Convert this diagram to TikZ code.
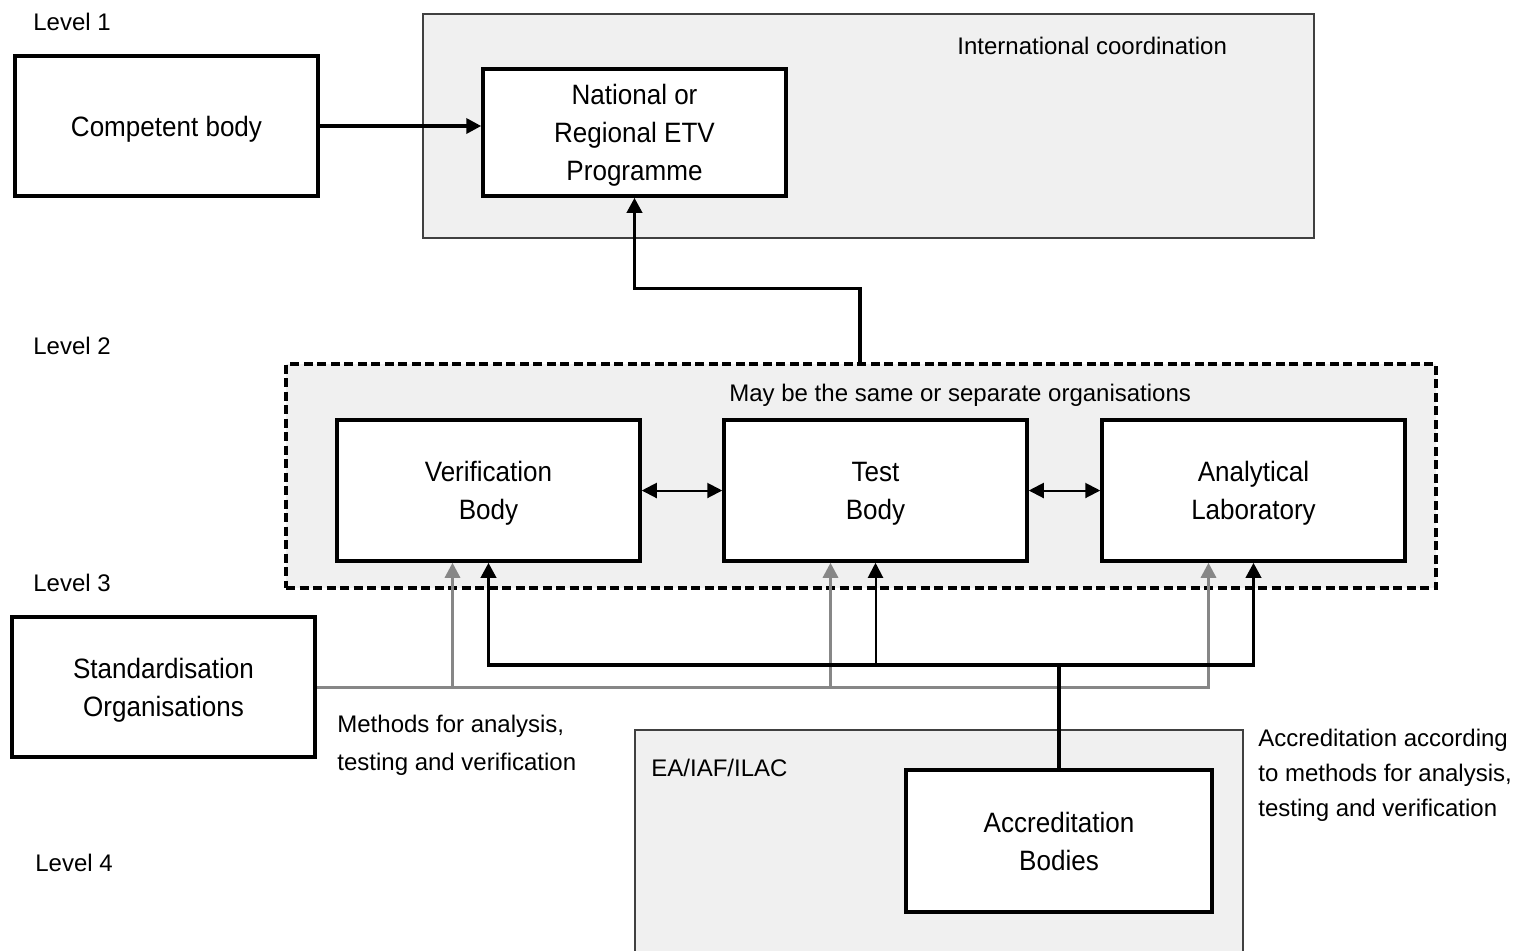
\documentclass[tikz,border=0pt]{standalone}
\usepackage{fontspec}
\setmainfont{Liberation Sans}
\newfontfamily\boxfont[FakeStretch=0.93]{Liberation Sans}
\usetikzlibrary{arrows.meta}
\definecolor{gfill}{HTML}{F0F0F0}
\definecolor{gline}{HTML}{878787}
\definecolor{gborder}{HTML}{404040}
\begin{document}
\begin{tikzpicture}[x=0.5pt,y=-0.5pt,
  box/.style={draw=black, line width=1.75pt, fill=white, align=center,
    font=\boxfont\fontsize{14}{19}\selectfont, inner sep=0pt, text depth=-1pt},
  grp/.style={draw=gborder, line width=0.75pt, fill=gfill},
  dgrp/.style={draw=black, line width=1.6pt, fill=gfill, dash pattern=on 4.5pt off 2.25pt, inner sep=0pt},
  lbl/.style={font=\fontsize{12}{17.5}\selectfont, inner sep=0pt, align=left},
  tip/.style={-{Triangle[length=7.5pt,width=7.5pt]}},
  blk/.style={draw=black, line width=1.75pt},
  blkarr/.style={blk, tip},
  thinarr/.style={draw=black, line width=1pt, tip},
  dblarr/.style={draw=black, line width=1pt, {Triangle[length=7.5pt,width=7.5pt]}-{Triangle[length=7.5pt,width=7.5pt]}},
  grayarr/.style={draw=gline, line width=1.5pt, -{Triangle[length=7.5pt,width=7.5pt]}},
]
\useasboundingbox (0,0) rectangle (1522,950);
\begin{scope}
\clip (0,0) rectangle (1522,950);

% group frames
\node[grp, minimum width=445.5pt, minimum height=112pt] (intl) at (868.5,126) {};
\node[dgrp, minimum width=575pt, minimum height=112pt] (grp2) at (861,476) {};
\node[grp, minimum width=304pt, minimum height=120pt, anchor=north west] (ea) at (634,729) {};

% labels
\node[lbl, anchor=base west] (l1) at (33,30.5) {Level 1};
\node[lbl, anchor=base west] (l2) at (33,354.5) {Level 2};
\node[lbl, anchor=base west] (l3) at (33,591.5) {Level 3};
\node[lbl, anchor=base west] (l4) at (35,871.5) {Level 4};
\node[lbl, anchor=base west] (tintl) at (957,54.5) {International coordination};
\node[lbl, anchor=base west] (tgrp) at (729,401.5) {May be the same or separate organisations};
\node[lbl, anchor=base west] (tea) at (651,776.5) {EA/IAF/ILAC};
\node[lbl, anchor=west, font=\fontsize{12}{19}\selectfont] (tmeth) at (337,745) {Methods for analysis,\\testing and verification};
\node[lbl, anchor=west] (tacc) at (1258,775) {Accreditation according\\to methods for analysis,\\testing and verification};

% boxes
\node[box, minimum width=151.5pt, minimum height=70pt] (comp) at (166.5,126) {Competent body};
\node[box, minimum width=151.5pt, minimum height=63.5pt] (nat) at (634.5,132.5) {National or\\Regional ETV\\Programme};
\node[box, minimum width=151.5pt, minimum height=70.5pt] (verif) at (488.5,490.5) {Verification\\Body};
\node[box, minimum width=151.5pt, minimum height=70.5pt] (test) at (875.5,490.5) {Test\\Body};
\node[box, minimum width=151.5pt, minimum height=70.5pt] (anal) at (1253.5,490.5) {Analytical\\Laboratory};
\node[box, minimum width=151.5pt, minimum height=70pt] (stand) at (163.5,687) {Standardisation\\Organisations};
\node[box, minimum width=153pt, minimum height=71pt] (acc) at (1059,841) {Accreditation\\Bodies};

% connectors level 1/2
\draw[blkarr] (comp.east) -- (comp.east -| nat.west);
\draw[blkarr] ([xshift=-0.5pt]grp2.north) -- ++(0,-74) -| (nat.south);
\draw[dblarr] (verif.east) -- (test.west);
\draw[dblarr] (test.east) -- (anal.west);

% gray methods lines
\coordinate (gv) at ([xshift=-18pt]verif.south);
\coordinate (gt) at ([xshift=-22.5pt]test.south);
\coordinate (ga) at ([xshift=-22.5pt]anal.south);
\draw[grayarr] (stand.east) -| (ga);
\draw[grayarr] (gv |- stand.east) -- (gv);
\draw[grayarr] (gt |- stand.east) -- (gt);

% black accreditation lines
\coordinate (bus) at (1059,665);
\draw[blk] (acc.north) -- (bus);
\draw[blkarr] (bus) -| (verif.south);
\draw[blkarr] (bus) -| (anal.south);
\draw[thinarr] (test.south |- bus) -- (test.south);
\end{scope}
\end{tikzpicture}
\end{document}
